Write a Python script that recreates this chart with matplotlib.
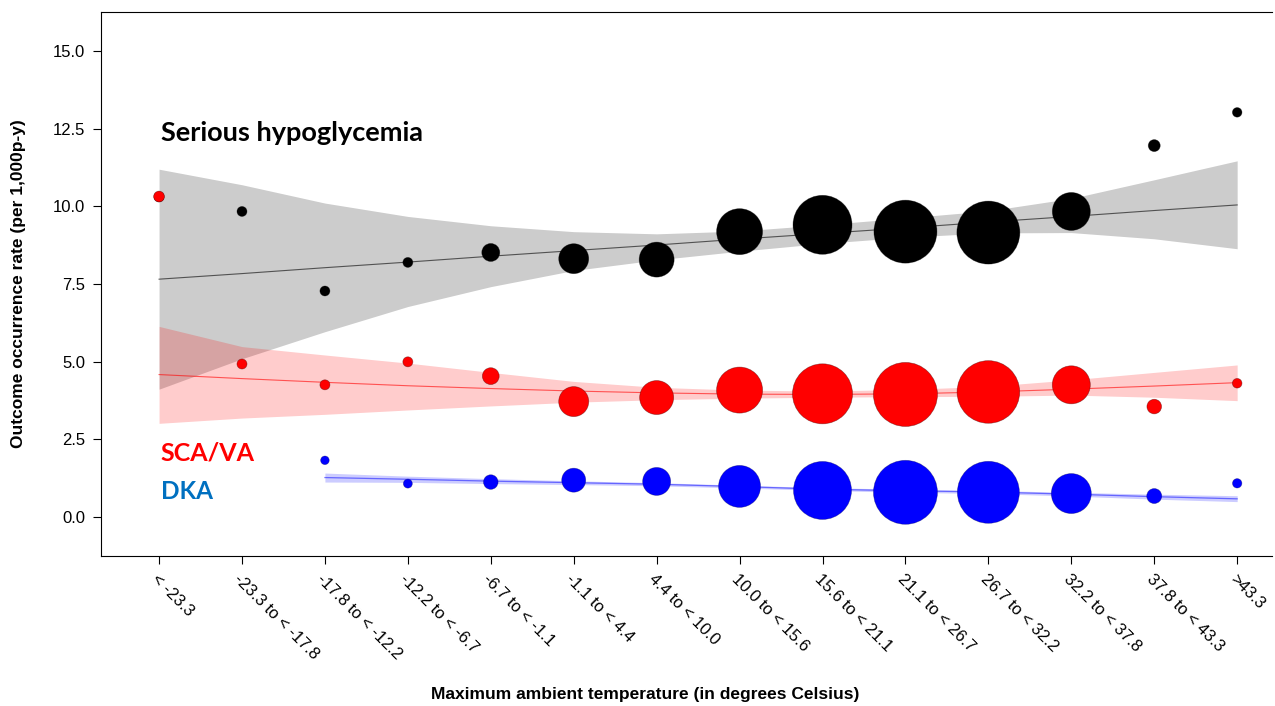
import numpy as np
import matplotlib.pyplot as plt
from matplotlib.transforms import ScaledTranslation

# temperature categories (x axis)
categories = ["< -23.3", "-23.3 to < -17.8", "-17.8 to < -12.2", "-12.2 to < -6.7",
              "-6.7 to < -1.1", "-1.1 to < 4.4", "4.4 to < 10.0", "10.0 to < 15.6",
              "15.6 to < 21.1", "21.1 to < 26.7", "26.7 to < 32.2", "32.2 to < 37.8",
              "37.8 to < 43.3", ">43.3"]
xpos = np.arange(1, len(categories) + 1)

# serious hypoglycemia
hypo_rate = [10.3, 9.83, 7.27, 8.19, 8.51, 8.31, 8.28, 9.18, 9.40, 9.18, 9.15, 9.83, 11.95, 13.02]
hypo_bubble = [5, 5, 5, 5, 9, 15, 17.5, 23, 29.5, 31.5, 31.5, 19, 6, 4.8]
hypo_fit = [7.65, 7.83, 8.02, 8.20, 8.39, 8.57, 8.75, 8.94, 9.12, 9.30, 9.49, 9.67, 9.86, 10.04]
hypo_upper = [11.19, 10.69, 10.10, 9.67, 9.37, 9.18, 9.11, 9.20, 9.40, 9.62, 9.85, 10.25, 10.85, 11.46]
hypo_lower = [4.11, 5.09, 5.96, 6.77, 7.41, 7.93, 8.27, 8.55, 8.80, 9.00, 9.14, 9.15, 8.95, 8.63]

# SCA/VA
sca_rate = [10.31, 4.92, 4.25, 4.99, 4.53, 3.71, 3.84, 4.08, 3.96, 3.94, 4.02, 4.25, 3.55, 4.30]
sca_bubble = [5.4, 5, 5, 5, 8.4, 15, 17, 23, 30, 32, 31.3, 19, 7.3, 4.8]
sca_fit = [4.58, 4.45, 4.33, 4.22, 4.13, 4.05, 3.99, 3.95, 3.94, 3.96, 4.02, 4.11, 4.21, 4.32]
sca_upper = [6.13, 5.48, 5.21, 4.95, 4.65, 4.36, 4.17, 4.08, 4.05, 4.10, 4.20, 4.41, 4.65, 4.89]
sca_lower = [3.01, 3.18, 3.30, 3.44, 3.57, 3.69, 3.77, 3.82, 3.85, 3.87, 3.88, 3.92, 3.85, 3.74]

# DKA (no data for the two coldest categories)
dka_rate = [np.nan, np.nan, 1.82, 1.07, 1.12, 1.18, 1.14, 0.98, 0.85, 0.79, 0.79, 0.75, 0.67, 1.08]
dka_bubble = [0, 0, 4.3, 4.5, 7.3, 12, 14, 21, 29, 32, 31, 20, 7.5, 4.7]
dka_fit = [np.nan, np.nan, 1.265, 1.21, 1.15, 1.10, 1.05, 0.975, 0.89, 0.84, 0.80, 0.73, 0.65, 0.58]
dka_upper = [np.nan, np.nan, 1.41, 1.31, 1.23, 1.16, 1.10, 1.02, 0.94, 0.89, 0.85, 0.79, 0.73, 0.68]
dka_lower = [np.nan, np.nan, 1.12, 1.11, 1.07, 1.04, 1.00, 0.93, 0.85, 0.79, 0.75, 0.67, 0.57, 0.49]


def bubble_area(radius_px):
    # radius in pixels (dpi 100) -> scatter area in pt^2
    return (2 * np.asarray(radius_px) * 0.72) ** 2


plt.rcParams["font.family"] = ["Liberation Sans", "DejaVu Sans"]

fig = plt.figure(figsize=(12.75, 7.06), dpi=100)
ax = fig.add_axes([101 / 1275, 1 - 556 / 706, 1171 / 1275, 544 / 706])

# confidence bands
ax.fill_between(xpos, hypo_lower, hypo_upper, color="black", alpha=0.2, lw=0)
ax.fill_between(xpos, sca_lower, sca_upper, color="red", alpha=0.2, lw=0)
ax.fill_between(xpos, dka_lower, dka_upper, color="blue", alpha=0.2, lw=0)

# fitted lines
ax.plot(xpos, hypo_fit, color="black", lw=0.8, alpha=0.6)
ax.plot(xpos, sca_fit, color="red", lw=0.8, alpha=0.6)
ax.plot(xpos, dka_fit, color="blue", lw=0.9, alpha=0.5)

# bubbles
ax.scatter(xpos, hypo_rate, s=bubble_area(hypo_bubble), color="black",
           edgecolors=(0, 0, 0, 0.4), linewidths=0.5, zorder=3)
ax.scatter(xpos, sca_rate, s=bubble_area(sca_bubble), color="red",
           edgecolors=(0.3, 0, 0, 0.5), linewidths=0.5, zorder=4)
ax.scatter(xpos, dka_rate, s=bubble_area(dka_bubble), color="blue",
           edgecolors=(0, 0, 0.3, 0.4), linewidths=0.5, zorder=4)

title_font = ["Lato", "DejaVu Sans"]
ax.text(1.02, 12.10, "Serious hypoglycemia", color="black", fontsize=19.5,
        fontweight="bold", family=title_font, va="baseline")
ax.text(1.02, 1.80, "SCA/VA", color="#FF0000", fontsize=18,
        fontweight="bold", family=title_font, va="baseline")
ax.text(1.02, 0.58, "DKA", color="#0070C0", fontsize=17.5,
        fontweight="bold", family=title_font, va="baseline")

ax.set_xlim(0.30, 14.42)
ax.set_ylim(-1.26, 16.25)
ax.set_yticks([0.0, 2.5, 5.0, 7.5, 10.0, 12.5, 15.0])
ax.set_yticklabels(["0.0", "2.5", "5.0", "7.5", "10.0", "12.5", "15.0"])
ax.set_xticks(xpos)
ax.set_xticklabels(categories, rotation=-45, ha="left", va="top",
                   rotation_mode="anchor")
offset = ScaledTranslation(-9 / 100, -7 / 100, fig.dpi_scale_trans)
for lbl in ax.get_xticklabels():
    lbl.set_transform(lbl.get_transform() + offset)

ax.tick_params(axis="both", direction="out", length=5.8, width=0.8,
               labelsize=12, pad=5.5, colors="black")
ax.spines["right"].set_visible(False)
for sp in ("left", "top", "bottom"):
    ax.spines[sp].set_linewidth(0.8)

fig.text(645 / 1275, 1 - 694 / 706, "Maximum ambient temperature (in degrees Celsius)",
         ha="center", va="center", fontsize=12.5, fontweight="bold")
fig.text(19 / 1275, 1 - 284 / 706, "Outcome occurrence rate (per 1,000p-y)",
         ha="center", va="center", rotation=90, fontsize=12.5, fontweight="bold")

fig.savefig("out.png", dpi=100)
